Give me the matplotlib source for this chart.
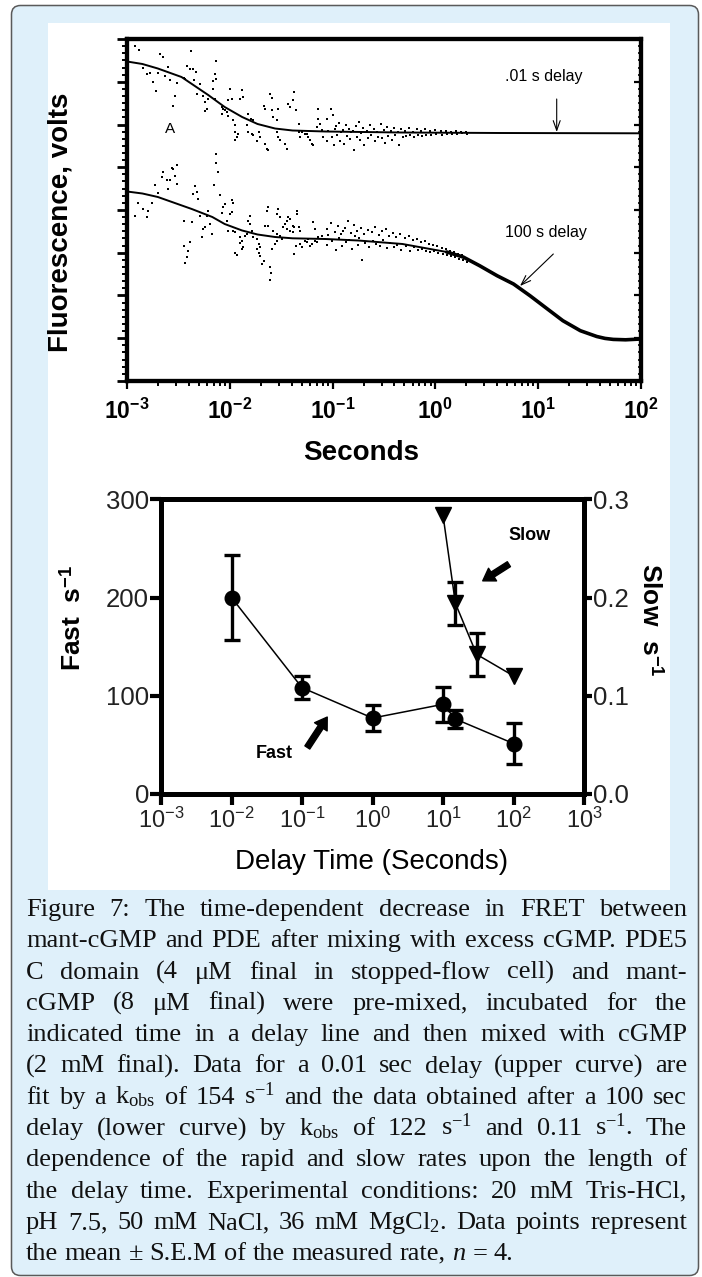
import matplotlib
matplotlib.use("Agg")
import matplotlib.pyplot as plt
import numpy as np
from matplotlib.patches import FancyBboxPatch, Rectangle
from matplotlib.transforms import IdentityTransform
from matplotlib.ticker import MultipleLocator, LogLocator, NullLocator, NullFormatter

plt.rcParams['font.family'] = ['Liberation Sans', 'DejaVu Sans']
plt.rcParams['mathtext.fontset'] = 'custom'
plt.rcParams['mathtext.rm'] = 'Liberation Serif'
plt.rcParams['mathtext.it'] = 'Liberation Serif:italic'
plt.rcParams['mathtext.bf'] = 'Liberation Serif:bold'


#------------------------------------------------------------------------------
# Data  (top panel: x = log10 seconds, y = fluorescence, arbitrary units)

# fitted curves
fit_up_logt = [-3.0, -2.85, -2.70, -2.47, -2.21, -2.05, -1.88, -1.73, -1.56, -1.39, -1.07, -0.34, 0.63, 2.0]
fit_up_y = [319.5, 317, 312.5, 304, 286, 274, 264, 257, 252.5, 250.5, 249.5, 248.5, 248, 247.7]

fit_lo_logt = [-3.0, -2.85, -2.70, -2.37, -2.17, -2.05, -1.88, -1.73, -1.56, -1.39, -1.07, -0.75, -0.32,
               0.11, 0.27, 0.43, 0.60, 0.76, 0.92, 1.09, 1.24, 1.41, 1.57, 1.65, 1.73, 1.85, 2.0]
fit_lo_y = [189.5, 187.5, 184, 172, 164, 157, 150.5, 146.5, 144, 142.7, 142, 140.5, 137,
            129, 124, 115.3, 105.3, 97, 85.3, 72, 60.3, 50.3, 44.5, 42.6, 41.6, 41.2, 42]

# raw points, .01 s delay trace
up_sparse = [
    (-2.92, 335), (-2.88, 331), (-2.68, 327), (-2.65, 324), (-2.38, 330), (-2.13, 320), (-2.42, 315),
    (-2.39, 312), (-2.36, 312), (-2.33, 309), (-2.60, 314), (-2.84, 313), (-2.78, 308), (-2.81, 307),
    (-2.70, 308), (-2.63, 305), (-2.58, 301), (-2.51, 298), (-2.45, 303), (-2.44, 302), (-2.35, 301),
    (-2.29, 297), (-2.14, 307), (-2.13, 302), (-2.16, 300), (-2.75, 299), (-2.72, 290), (-2.53, 285),
    (-2.55, 275), (-2.32, 287), (-2.26, 285), (-2.21, 282), (-2.16, 292), (-2.14, 282), (-2.24, 279),
    (-2.22, 272), (-2.24, 270), (-2.08, 274), (-2.07, 272), (-2.05, 271), (-2.03, 269), (-2.00, 292),
    (-1.98, 282), (-2.02, 281), (-1.88, 291), (-1.87, 284), (-1.90, 282), (-2.08, 267), (-2.02, 265),
    (-1.97, 261), (-1.95, 256), (-1.82, 267), (-1.79, 262), (-1.77, 261), (-1.67, 275), (-1.66, 272),
    (-1.61, 287), (-1.59, 283), (-1.59, 271), (-1.58, 264), (-1.54, 261), (-1.53, 272), (-1.43, 277),
    (-1.41, 274), (-1.38, 289), (-1.39, 281), (-1.36, 271), (-1.14, 272), (-1.95, 249), (-1.92, 247),
    (-1.93, 244), (-1.95, 241), (-1.83, 256), (-1.82, 249), (-1.78, 247), (-1.77, 246), (-1.72, 249),
    (-1.71, 244), (-1.74, 240), (-1.66, 237), (-1.64, 232), (-1.63, 231), (-1.54, 249), (-1.53, 244),
    (-1.51, 241), (-1.46, 237), (-1.44, 232), (-1.33, 257), (-1.33, 249), (-1.32, 244), (-1.30, 249),
    (-1.27, 247), (-1.25, 247), (-1.24, 244), (-1.22, 241), (-1.20, 237), (-1.19, 236), (-1.15, 254),
    (-1.14, 262), (-1.12, 257), (-1.10, 251), (-1.09, 244),
]
up_dense = [
    (-1.05, 262), (-1.05, 240), (-1.04, 250), (-1.02, 272), (-1.01, 244), (-1.00, 266), (-0.99, 236),
    (-0.98, 252), (-0.97, 255), (-0.96, 246), (-0.94, 258), (-0.93, 240), (-0.92, 249), (-0.90, 251),
    (-0.89, 237), (-0.87, 256), (-0.86, 245), (-0.84, 252), (-0.83, 242), (-0.82, 249), (-0.80, 250),
    (-0.79, 231), (-0.77, 255), (-0.76, 244), (-0.74, 259), (-0.73, 241), (-0.72, 248), (-0.70, 253),
    (-0.69, 236), (-0.67, 250), (-0.66, 243), (-0.64, 256), (-0.63, 246), (-0.60, 252), (-0.59, 240),
    (-0.57, 249), (-0.56, 244), (-0.53, 257), (-0.52, 243), (-0.50, 251), (-0.49, 238), (-0.47, 254),
    (-0.46, 245), (-0.43, 250), (-0.42, 241), (-0.40, 253), (-0.39, 246), (-0.36, 249), (-0.35, 236),
    (-0.33, 252), (-0.32, 244), (-0.30, 250), (-0.29, 245), (-0.26, 253), (-0.25, 246), (-0.22, 249),
    (-0.21, 244), (-0.18, 252), (-0.17, 246), (-0.14, 250), (-0.13, 245), (-0.10, 252), (-0.09, 246),
    (-0.05, 250), (-0.04, 246), (0.00, 251), (0.01, 247), (0.05, 250), (0.06, 246), (0.10, 250),
    (0.11, 247), (0.15, 249), (0.16, 247), (0.20, 250), (0.21, 247), (0.25, 249), (0.26, 248),
    (0.30, 249), (0.31, 247),
]

# raw points, 100 s delay trace
lo_sparse = [
    (-2.13, 227), (-2.13, 218), (-2.11, 209), (-2.15, 196), (-2.51, 216), (-2.55, 212), (-2.56, 213),
    (-2.65, 209), (-2.66, 204), (-2.61, 201), (-2.58, 201), (-2.53, 205), (-2.51, 197), (-2.73, 196),
    (-2.70, 188), (-2.60, 192), (-2.34, 195), (-2.32, 189), (-2.36, 187), (-2.10, 186), (-1.98, 181),
    (-2.89, 178), (-2.84, 172), (-2.76, 178), (-2.80, 170), (-2.81, 164), (-2.92, 165), (-2.31, 182),
    (-2.05, 177), (-2.07, 174), (-1.97, 178), (-2.08, 168), (-1.98, 169), (-2.00, 167), (-2.45, 160),
    (-2.37, 159), (-2.29, 165), (-2.22, 165), (-2.21, 170), (-2.19, 157), (-2.24, 154), (-2.26, 152),
    (-2.17, 147), (-2.27, 144), (-2.45, 135), (-2.39, 139), (-2.41, 130), (-2.42, 124), (-2.44, 118),
    (-2.03, 160), (-2.02, 150), (-1.97, 150), (-1.95, 149), (-1.90, 144), (-1.88, 140), (-1.90, 138),
    (-1.87, 134), (-1.88, 132), (-1.85, 145), (-1.83, 147), (-1.95, 128), (-1.93, 126), (-1.80, 165),
    (-1.82, 160), (-1.80, 157), (-1.78, 150), (-1.77, 144), (-1.74, 142), (-1.72, 137), (-1.71, 134),
    (-1.74, 132), (-1.72, 128), (-1.71, 125), (-1.67, 120), (-1.69, 117), (-1.61, 114), (-1.60, 108),
    (-1.61, 101), (-1.63, 174), (-1.64, 170), (-1.66, 155), (-1.63, 155), (-1.59, 132), (-1.56, 137),
    (-1.54, 140), (-1.53, 172), (-1.54, 167), (-1.51, 164), (-1.58, 150), (-1.54, 147), (-1.51, 145),
    (-1.49, 142), (-1.48, 154), (-1.46, 157), (-1.44, 160), (-1.43, 164), (-1.41, 162), (-1.39, 155),
    (-1.38, 154), (-1.44, 152), (-1.41, 150), (-1.39, 149), (-1.35, 170), (-1.35, 167), (-1.33, 154),
    (-1.32, 150), (-1.36, 135), (-1.38, 127), (-1.32, 137), (-1.30, 134), (-1.27, 140), (-1.25, 139),
    (-1.24, 142), (-1.22, 135), (-1.20, 137), (-1.17, 140), (-1.15, 139), (-1.19, 159), (-1.17, 152),
    (-1.14, 144), (-1.10, 145),
]
lo_dense = [
    (-1.05, 152), (-1.05, 136), (-1.04, 146), (-1.02, 158), (-1.01, 140), (-0.98, 149), (-0.97, 131),
    (-0.95, 155), (-0.94, 143), (-0.92, 147), (-0.91, 135), (-0.90, 150), (-0.88, 153), (-0.87, 139),
    (-0.85, 160), (-0.84, 141), (-0.82, 148), (-0.81, 132), (-0.79, 156), (-0.78, 145), (-0.76, 150),
    (-0.75, 136), (-0.74, 143), (-0.72, 153), (-0.71, 121), (-0.69, 147), (-0.68, 138), (-0.66, 151),
    (-0.65, 134), (-0.62, 149), (-0.61, 140), (-0.59, 154), (-0.58, 137), (-0.55, 146), (-0.54, 135),
    (-0.52, 150), (-0.51, 141), (-0.48, 152), (-0.47, 133), (-0.45, 145), (-0.44, 138), (-0.41, 148),
    (-0.40, 134), (-0.38, 144), (-0.37, 136), (-0.34, 147), (-0.33, 131), (-0.30, 143), (-0.29, 135),
    (-0.26, 145), (-0.25, 130), (-0.22, 141), (-0.21, 134), (-0.18, 142), (-0.17, 131), (-0.14, 139),
    (-0.13, 132), (-0.10, 140), (-0.09, 130), (-0.06, 137), (-0.05, 129), (-0.02, 136), (-0.01, 130),
    (0.02, 135), (0.03, 128), (0.06, 133), (0.07, 127), (0.10, 132), (0.11, 126), (0.14, 130),
    (0.15, 125), (0.18, 129), (0.19, 124), (0.22, 127), (0.23, 122), (0.26, 126), (0.27, 121),
    (0.30, 123), (0.31, 119),
]

top_xticks = [1e-3, 1e-2, 1e-1, 1e0, 1e1, 1e2]
top_xtick_labels = [r"$\mathdefault{10^{-3}}$", r"$\mathdefault{10^{-2}}$", r"$\mathdefault{10^{-1}}$",
                    r"$\mathdefault{10^{0}}$", r"$\mathdefault{10^{1}}$", r"$\mathdefault{10^{2}}$"]

# bottom panel
delay_fast = [0.01, 0.1, 1, 10, 15, 100]
fast_rate = [200, 108, 77, 91, 76, 51]
fast_err = [43, 12, 13, 18, 9, 21]

delay_slow = [10, 15, 30, 100]
slow_rate = [0.284, 0.194, 0.142, 0.120]
slow_err = [np.nan, 0.022, 0.022, np.nan]

bot_xticks = [1e-3, 1e-2, 1e-1, 1e0, 1e1, 1e2, 1e3]
bot_xtick_labels = [r"$\mathdefault{10^{-3}}$", r"$\mathdefault{10^{-2}}$", r"$\mathdefault{10^{-1}}$",
                    r"$\mathdefault{10^{0}}$", r"$\mathdefault{10^{1}}$", r"$\mathdefault{10^{2}}$",
                    r"$\mathdefault{10^{3}}$"]
fast_ticks = [0, 100, 200, 300]
slow_ticks = [0.0, 0.1, 0.2, 0.3]
slow_tick_labels = ["0.0", "0.1", "0.2", "0.3"]

cap_lines = [
    "Figure 7:  The time-dependent decrease in FRET between",
    "mant-cGMP and PDE after mixing with excess cGMP. PDE5",
    "C domain (4 μM final in stopped-flow cell) and mant-",
    "cGMP (8 μM final) were pre-mixed, incubated for the",
    "indicated time in a delay line and then mixed with cGMP",
    "(2 mM final). Data for a 0.01 sec delay (upper curve) are",
    r"fit by a k$_{\mathdefault{obs}}$ of 154 s$^{\mathdefault{-1}}$ and the data obtained after a 100 sec",
    r"delay (lower curve) by k$_{\mathdefault{obs}}$ of 122 s$^{\mathdefault{-1}}$ and 0.11 s$^{\mathdefault{-1}}$. The",
    "dependence of the rapid and slow rates upon the length of",
    "the delay time. Experimental conditions: 20 mM Tris-HCl,",
    r"pH 7.5, 50 mM NaCl, 36 mM MgCl$_{\mathdefault{2}}$. Data points represent",
    r"the mean ± S.E.M of the measured rate, $\mathit{n}$ = 4.",
]


#------------------------------------------------------------------------------
# Figure frame

W, H = 702, 1277
fig = plt.figure(figsize=(W / 100, H / 100), dpi=100)
fig.patch.set_facecolor('white')
px = IdentityTransform()


def box(x0, y0, x1, y1):
    # image-pixel box (y down) -> figure fraction rect
    return [x0 / W, 1 - y1 / H, (x1 - x0) / W, (y1 - y0) / H]


fig.add_artist(FancyBboxPatch((11.5, 1.5), 687, 1270, boxstyle='round,pad=0,rounding_size=9',
                              transform=px, fc='#dff0fa', ec='#5a5a5a', lw=1.1, zorder=-2))
fig.add_artist(Rectangle((48, H - 890), 622, 867, transform=px, fc='white', ec='none', zorder=-1))


#------------------------------------------------------------------------------
# Top panel

ax1 = fig.add_axes(box(127, 39, 641, 381))
ax1.set_xscale('log')
ax1.set_xlim(1e-3, 1e2)
ax1.set_ylim(0, 342)

for pts in (up_sparse, up_dense, lo_sparse, lo_dense):
    lt, yy = np.array(pts).T
    ax1.plot(10 ** lt, yy, 's', ms=2.1, mew=0, color='k')

ax1.plot(10 ** np.array(fit_up_logt), fit_up_y, '-', color='k', lw=1.4)
lo_t = np.array(fit_lo_logt)
ax1.plot(10 ** lo_t, fit_lo_y, '-', color='k', lw=1.4)
late = lo_t >= 0.1
ax1.plot(10 ** lo_t[late], np.array(fit_lo_y)[late], '-', color='k', lw=2.6,
         solid_joinstyle='round', solid_capstyle='round')

ax1.text(10 ** -2.58, 252, "A", fontsize=11, ha='center', va='center')
ax1.text(10 ** 1.05, 304, ".01 s delay", fontsize=11.5, ha='center', va='center')
ax1.annotate("", xy=(10 ** 1.18, 249), xytext=(10 ** 1.18, 282),
             arrowprops=dict(arrowstyle='->,head_length=0.7,head_width=0.25', lw=0.8, color='k',
                             shrinkA=0, shrinkB=0))
ax1.text(10 ** 1.08, 149, "100 s delay", fontsize=11.5, ha='center', va='center')
ax1.annotate("", xy=(10 ** 0.823, 95), xytext=(10 ** 1.147, 127),
             arrowprops=dict(arrowstyle='->,head_length=0.7,head_width=0.25', lw=0.8, color='k',
                             shrinkA=0, shrinkB=0))

ax1.set_xticks(top_xticks)
ax1.set_xticklabels(top_xtick_labels, fontweight='bold', fontsize=16.5)
ax1.xaxis.set_minor_locator(LogLocator(base=10, subs=np.arange(2, 10)))
ax1.xaxis.set_minor_formatter(NullFormatter())
ax1.tick_params(axis='x', which='major', direction='out', length=6, width=1.6, pad=7)
ax1.tick_params(axis='x', which='minor', direction='out', length=3.8, width=1.4)

ax1.yaxis.set_major_locator(MultipleLocator(42.75))
ax1.yaxis.set_minor_locator(MultipleLocator(42.75 / 6))
ax1.tick_params(axis='y', which='both', direction='out', labelleft=False)
ax1.tick_params(axis='y', which='major', length=7.5, width=2)
ax1.tick_params(axis='y', which='minor', length=3.8, width=1.4)

axr = ax1.twinx()
axr.set_ylim(0, 342)
axr.yaxis.set_major_locator(MultipleLocator(42.75))
axr.yaxis.set_minor_locator(MultipleLocator(42.75 / 6))
axr.tick_params(axis='y', which='both', direction='in', labelright=False)
axr.tick_params(axis='y', which='major', length=5, width=1.6)
axr.tick_params(axis='y', which='minor', length=2.5, width=1.2)

for a in (ax1, axr):
    for s in a.spines.values():
        s.set_linewidth(3)

fig.text(361, H - 453, "Seconds", transform=px, fontsize=20, fontweight='bold', ha='center', va='center')
fig.text(60, H - 222, "Fluorescence, volts", transform=px, fontsize=20, fontweight='bold',
         rotation=90, ha='center', va='center')


#------------------------------------------------------------------------------
# Bottom panel

ax3 = fig.add_axes(box(161, 499.5, 584, 793.5))
ax3.set_xscale('log')
ax3.set_xlim(1e-3, 1e3)
ax3.set_ylim(0, 300)
ax3.errorbar(delay_fast, fast_rate, yerr=fast_err, fmt='o-', color='k', ms=10.5, lw=1.1,
             elinewidth=2.4, capsize=5.8, capthick=2.4)

ax4 = ax3.twinx()
ax4.set_ylim(0, 0.3)
ax4.errorbar(delay_slow, slow_rate, yerr=slow_err, fmt='v-', color='k', ms=11, lw=1.1,
             elinewidth=2.4, capsize=5.8, capthick=2.4)

ax3.set_xticks(bot_xticks)
ax3.set_xticklabels(bot_xtick_labels, fontsize=17, color='#222222')
ax3.xaxis.set_minor_locator(NullLocator())
ax3.set_yticks(fast_ticks)
ax3.set_yticklabels([str(v) for v in fast_ticks], fontsize=18.5, color='#222222')
ax4.set_yticks(slow_ticks)
ax4.set_yticklabels(slow_tick_labels, fontsize=18.5, color='#222222')
ax3.tick_params(axis='x', direction='out', length=8, width=3, pad=2)
ax3.tick_params(axis='y', direction='out', length=8, width=3, pad=0.5)
ax4.tick_params(axis='y', direction='out', length=6, width=3, pad=0.5)
for a in (ax3, ax4):
    for s in a.spines.values():
        s.set_linewidth(3.6)

ax3.text(170, 263, "Slow", fontsize=13, fontweight='bold', ha='center', va='center')
ax3.annotate("", xy=(36.6, 217), xytext=(86, 234),
             arrowprops=dict(arrowstyle='simple,head_length=0.7,head_width=0.9,tail_width=0.35',
                             fc='k', ec='k', mutation_scale=12, shrinkA=0, shrinkB=0))
ax3.text(0.040, 40.5, "Fast", fontsize=13, fontweight='bold', ha='center', va='center')
ax3.annotate("", xy=(0.228, 78), xytext=(0.119, 47),
             arrowprops=dict(arrowstyle='simple,head_length=0.7,head_width=0.9,tail_width=0.35',
                             fc='k', ec='k', mutation_scale=12, shrinkA=0, shrinkB=0))

fig.text(73, H - 618, r"Fast  s$^{\mathdefault{-1}}$", transform=px, fontsize=19, fontweight='bold',
         rotation=90, ha='center', va='center')
fig.text(650, H - 620, r"Slow  s$^{\mathdefault{-1}}$", transform=px, fontsize=19, fontweight='bold',
         rotation=270, ha='center', va='center')
fig.text(372, H - 862, "Delay Time (Seconds)", transform=px, fontsize=20, ha='center', va='center')


#------------------------------------------------------------------------------
# Caption (justified)

renderer = fig.canvas.get_renderer()
cap_x0, cap_x1 = 26, 687
cap_w = cap_x1 - cap_x0
cap_font = ['Liberation Serif', 'DejaVu Serif']

ref = 20.0
widest = 0
for line in cap_lines[:-1]:
    t = fig.text(0, 0, line, transform=px, fontsize=ref, family=cap_font)
    widest = max(widest, t.get_window_extent(renderer).width)
    t.remove()
cap_fs = min(19.0, ref * cap_w / widest * 0.985)

for i, line in enumerate(cap_lines):
    y = H - (916 + 31.3 * i)
    words = line.split()
    texts = [fig.text(0, y, w, transform=px, fontsize=cap_fs, family=cap_font,
                      va='baseline', color='#111111') for w in words]
    widths = [t.get_window_extent(renderer).width for t in texts]
    if i < len(cap_lines) - 1:
        gap = (cap_w - sum(widths)) / (len(words) - 1)
    else:
        gap = cap_fs * 100 / 72 * 0.25
    x = cap_x0
    for t, w in zip(texts, widths):
        t.set_position((x, y))
        x += w + gap

fig.savefig('out.png', dpi=100)
